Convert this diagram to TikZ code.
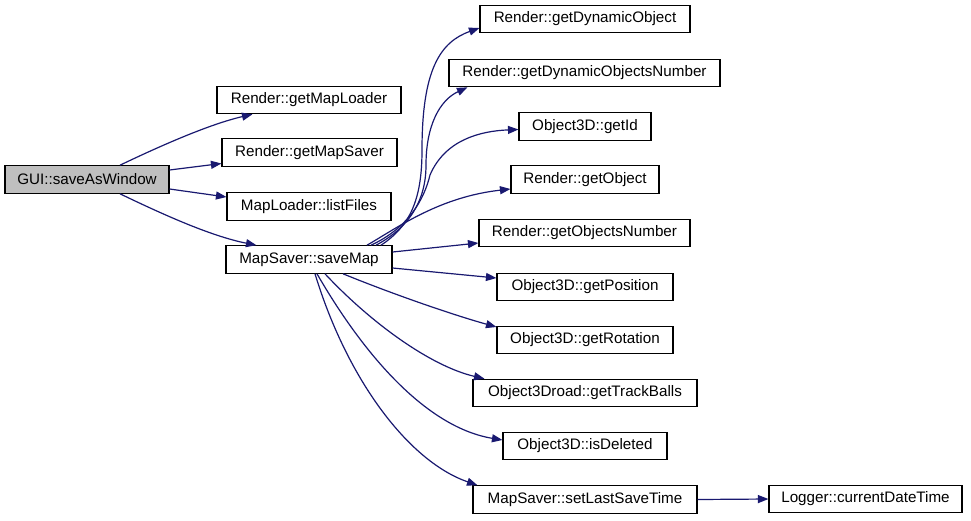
\documentclass[tikz,border=0pt]{standalone}
\usepackage{fontspec}
\setmainfont{Liberation Sans}
\usetikzlibrary{arrows.meta}
\definecolor{edgecol}{HTML}{191970}
\definecolor{boxgray}{HTML}{BFBFBF}
\begin{document}
\begin{tikzpicture}[x=1pt,y=-1pt,
  fn/.style={draw=black, line width=1.1pt, minimum height=27.5pt, inner sep=0pt, font=\fontsize{15.2}{18}\selectfont, text=black},
  call/.style={draw=edgecol, line width=1.2pt, -{Triangle[length=10.5pt,width=8pt]}, edgecol}]
\useasboundingbox (0,0) rectangle (971,520);
% nodes
\node[fn, fill=boxgray, minimum width=164pt] (gui) at (87,179.5) {GUI::saveAsWindow};
\node[fn, minimum width=184pt] (gml) at (309,100) {Render::getMapLoader};
\node[fn, minimum width=175pt] (gms) at (309.5,152.5) {Render::getMapSaver};
\node[fn, minimum width=164pt] (lf) at (309,206.5) {MapLoader::listFiles};
\node[fn, minimum width=166pt] (sm) at (309,259.5) {MapSaver::saveMap};
\node[fn, minimum width=210pt] (gdo) at (585,19) {Render::getDynamicObject};
\node[fn, minimum width=271pt] (gdon) at (584.5,73) {Render::getDynamicObjectsNumber};
\node[fn, minimum width=132pt] (gid) at (585,126.5) {Object3D::getId};
\node[fn, minimum width=148pt] (gobj) at (585,179.5) {Render::getObject};
\node[fn, minimum width=211pt] (gon) at (584.5,233) {Render::getObjectsNumber};
\node[fn, minimum width=176pt] (gpos) at (585,287) {Object3D::getPosition};
\node[fn, minimum width=176pt] (grot) at (585,340) {Object3D::getRotation};
\node[fn, minimum width=224pt] (gtb) at (585,393) {Object3Droad::getTrackBalls};
\node[fn, minimum width=164pt] (isd) at (585,446) {Object3D::isDeleted};
\node[fn, minimum width=224pt] (slst) at (585,499.5) {MapSaver::setLastSaveTime};
\node[fn, minimum width=193pt] (log) at (865.5,499) {Logger::currentDateTime};
% edges from GUI::saveAsWindow
\draw[call] ([xshift=33pt]gui.north) .. controls (160,146) and (210,124) .. ([xshift=36pt]gml.south west);
\draw[call] ([yshift=9.5pt]gui.east) -- ([yshift=-11pt]gms.west);
\draw[call] ([yshift=-9.5pt]gui.east) -- ([yshift=9.5pt]lf.west);
\draw[call] ([xshift=33pt]gui.south) .. controls (160,213) and (210,236) .. ([xshift=31pt]sm.north west);
% edges from MapSaver::saveMap upward
\draw[call] ([xshift=72pt]sm.north) .. controls (410,226) and (422,200) .. (422,150) .. controls (422,70) and (440,42) .. ([yshift=-9pt]gdo.west);
\draw[call] ([xshift=67pt]sm.north) .. controls (410,227) and (426,200) .. (426,165) .. controls (426,125) and (440,100) .. ([xshift=19pt]gdon.south west);
\draw[call] ([xshift=62pt]sm.north) .. controls (408,228) and (424,200) .. (430,175) .. controls (445,140) and (480,131) .. ([yshift=-3pt]gid.west);
\draw[call] ([xshift=58pt]sm.north) .. controls (400,226) and (440,197) .. ([yshift=-9.5pt]gobj.west);
% edges from MapSaver::saveMap right and down
\draw[call] ([yshift=7.5pt]sm.east) -- ([yshift=-10pt]gon.west);
\draw[call] ([yshift=-8.5pt]sm.east) -- ([yshift=9pt]gpos.west);
\draw[call] ([xshift=34pt]sm.south) .. controls (390,293) and (450,314) .. ([yshift=13pt]grot.west);
\draw[call] ([xshift=16pt]sm.south) .. controls (370,322) and (430,366) .. ([xshift=12pt]gtb.north west);
\draw[call] ([xshift=8pt]sm.south) .. controls (368,362) and (430,428) .. ([yshift=6pt]isd.west);
\draw[call] ([xshift=6pt]sm.south) .. controls (348,382) and (410,462) .. ([xshift=5pt]slst.north west);
% setLastSaveTime -> Logger
\draw[call] (slst.east) -- (log.west);
\end{tikzpicture}
\end{document}
